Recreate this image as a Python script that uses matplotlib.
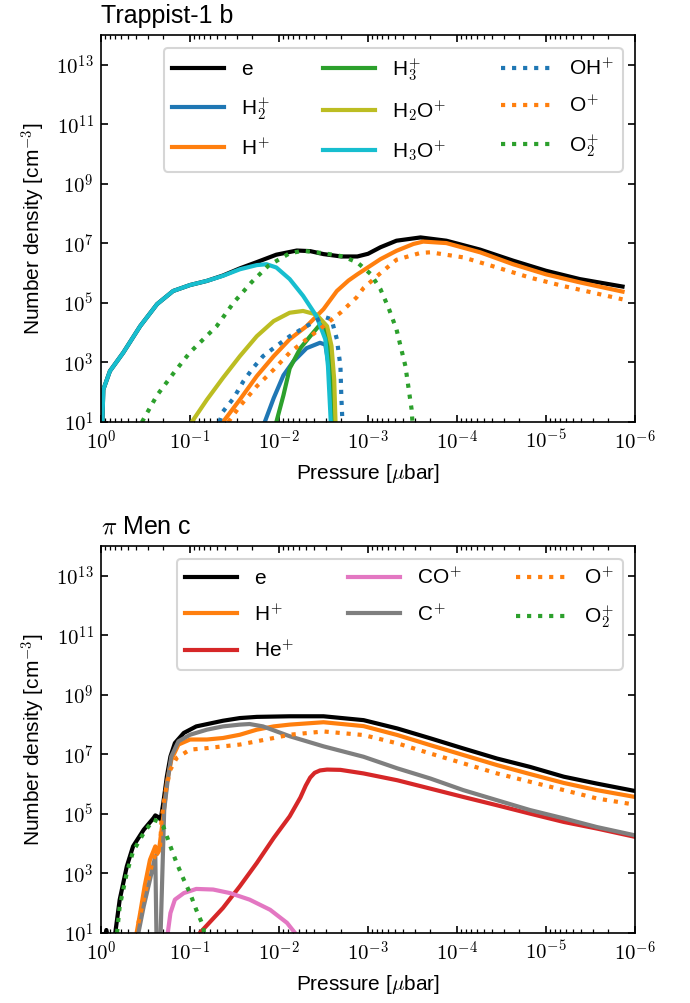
## Ion number densities vs pressure for two planets
import numpy as np
import matplotlib.pyplot as plt
from matplotlib.ticker import NullLocator, FuncFormatter, NullFormatter

plt.rcParams['font.family'] = ['Liberation Sans', 'DejaVu Sans']
plt.rcParams['mathtext.fontset'] = 'cm'
plt.rcParams['font.size'] = 10
plt.rcParams['xtick.direction'] = 'in'
plt.rcParams['ytick.direction'] = 'in'
plt.rcParams['xtick.top'] = True
plt.rcParams['ytick.right'] = True

# Trappist-1 b: log10(pressure [ubar]) and log10(density [cm-3])
t_e_p = [-0.01, -0.026, -0.10, -0.25, -0.44, -0.63, -0.81, -1.0, -1.19, -1.37, -1.56,
         -1.75, -1.97, -2.2, -2.35, -2.5, -2.7, -2.88, -3.0, -3.14, -3.32, -3.59,
         -3.88, -4.26, -4.63, -5.0, -5.38, -5.86]
t_e_n = [0.5, 2.09, 2.71, 3.33, 4.22, 4.96, 5.40, 5.60, 5.74, 5.92, 6.16,
         6.37, 6.62, 6.76, 6.74, 6.64, 6.56, 6.56, 6.65, 6.87, 7.09, 7.20,
         7.09, 6.79, 6.42, 6.08, 5.80, 5.55]

t_h2p_p = [-1.84, -1.94, -2.05, -2.16, -2.31, -2.46, -2.52, -2.55, -2.59, -2.61]
t_h2p_n = [1.0, 1.80, 2.57, 3.03, 3.48, 3.66, 3.60, 3.06, 2.2, 0.5]

t_hp_p = [-1.37, -1.56, -1.75, -1.94, -2.12, -2.31, -2.50, -2.65, -2.78, -2.88,
          -3.14, -3.32, -3.51, -3.62, -3.88, -4.26, -4.63, -5.0, -5.38, -5.86]
t_hp_n = [1.0, 1.75, 2.54, 3.21, 3.78, 4.22, 4.79, 5.40, 5.75, 5.96,
          6.47, 6.75, 6.98, 7.06, 7.01, 6.70, 6.30, 5.96, 5.69, 5.38]

t_h3p_p = [-1.97, -2.05, -2.12, -2.24, -2.35, -2.46, -2.50, -2.55, -2.59, -2.62]
t_h3p_n = [1.0, 1.90, 2.80, 3.48, 3.88, 4.27, 4.30, 3.83, 2.88, 0.5]

t_h2op_p = [-1.02, -1.19, -1.37, -1.56, -1.75, -1.94, -2.12, -2.27, -2.42, -2.54, -2.59, -2.62, -2.64]
t_h2op_n = [1.0, 1.75, 2.48, 3.21, 3.88, 4.39, 4.67, 4.73, 4.61, 4.22, 3.55, 2.43, 0.5]

t_h3op_p = [-0.01, -0.026, -0.10, -0.25, -0.44, -0.63, -0.81, -1.0, -1.19, -1.37, -1.56,
            -1.75, -1.86, -1.97, -2.12, -2.27, -2.42, -2.52, -2.55, -2.59]
t_h3op_n = [0.5, 2.09, 2.71, 3.33, 4.22, 4.96, 5.40, 5.60, 5.74, 5.91, 6.13,
            6.27, 6.30, 6.19, 5.80, 5.24, 4.56, 3.78, 2.88, 0.5]

t_ohp_p = [-1.33, -1.37, -1.49, -1.60, -1.71, -1.82, -1.97, -2.12, -2.31, -2.50, -2.59, -2.65, -2.69, -2.70, -2.72]
t_ohp_n = [1.0, 1.35, 1.80, 2.37, 2.82, 3.21, 3.55, 3.88, 4.22, 4.54, 4.45, 3.78, 2.88, 1.87, 0.5]

t_op_p = [-1.43, -1.56, -1.75, -1.94, -2.12, -2.31, -2.50, -2.69, -2.87, -2.95, -3.14,
          -3.32, -3.59, -3.70, -4.07, -4.45, -4.82, -5.19, -5.86]
t_op_n = [1.0, 1.53, 2.2, 2.76, 3.33, 3.78, 4.22, 4.67, 5.18, 5.5, 6.0,
          6.45, 6.68, 6.70, 6.53, 6.19, 5.85, 5.57, 5.12]

t_o2p_p = [-0.46, -0.63, -0.81, -1.0, -1.30, -1.49, -1.69, -1.88, -2.12, -2.27, -2.50,
           -2.72, -2.88, -3.03, -3.14, -3.23, -3.32, -3.42, -3.49, -3.51]
t_o2p_n = [1.0, 1.90, 2.62, 3.34, 4.22, 5.01, 5.69, 6.25, 6.67, 6.75, 6.67,
           6.56, 6.36, 5.97, 5.46, 4.84, 4.11, 2.88, 1.42, 0.5]

# pi Men c
m_e_p = [-0.02, -0.06, -0.10, -0.16, -0.21, -0.29, -0.36, -0.48, -0.59, -0.61, -0.64, -0.67,
         -0.70, -0.74, -0.78, -0.83, -0.93, -1.07, -1.37, -1.56, -1.75, -2.12, -2.5,
         -2.95, -3.33, -3.70, -4.07, -4.45, -4.82, -5.20, -5.57, -6.0]
m_e_n = [0.5, 1.1, 0.5, 1.0, 2.12, 3.24, 3.91, 4.47, 4.86, 4.95, 4.90, 4.81,
         5.37, 6.26, 6.93, 7.38, 7.72, 7.94, 8.13, 8.22, 8.26, 8.28, 8.28,
         8.15, 7.87, 7.54, 7.20, 6.86, 6.58, 6.25, 6.02, 5.77]

m_hp_p = [-0.40, -0.44, -0.49, -0.55, -0.61, -0.63, -0.65, -0.70, -0.74, -0.79, -0.87,
          -1.0, -1.19, -1.37, -1.56, -1.75, -1.94, -2.12, -2.5, -2.95, -3.33, -3.70,
          -4.07, -4.45, -4.82, -5.20, -5.57, -6.0]
m_hp_n = [1.0, 1.67, 2.57, 3.46, 3.91, 3.65, 3.75, 4.92, 6.04, 6.82, 7.33,
          7.50, 7.50, 7.55, 7.66, 7.83, 7.94, 8.0, 8.08, 7.95, 7.65, 7.31,
          6.98, 6.64, 6.34, 6.04, 5.80, 5.57]

m_hep_p = [-1.11, -1.37, -1.56, -1.75, -1.94, -2.12, -2.24, -2.30, -2.35, -2.40, -2.46,
           -2.54, -2.69, -2.95, -3.33, -3.70, -4.07, -4.45, -4.82, -5.20, -5.57, -6.0]
m_hep_n = [1.0, 1.84, 2.57, 3.35, 4.19, 4.92, 5.55, 5.95, 6.22, 6.38, 6.46,
           6.49, 6.48, 6.36, 6.13, 5.85, 5.57, 5.29, 5.01, 4.73, 4.51, 4.23]

m_cop_p = [-0.75, -0.78, -0.83, -0.93, -1.07, -1.26, -1.45, -1.67, -1.90, -2.09, -2.18]
m_cop_n = [1.0, 1.67, 2.12, 2.34, 2.48, 2.46, 2.34, 2.12, 1.78, 1.34, 1.0]

m_cp_p = [-0.42, -0.48, -0.55, -0.61, -0.625, -0.665, -0.71, -0.75, -0.79, -0.87, -1.0,
          -1.19, -1.37, -1.56, -1.67, -1.82, -2.12, -2.5, -2.95, -3.33, -3.70, -4.07,
          -4.45, -4.82, -5.20, -5.57, -6.0]
m_cp_n = [1.0, 1.90, 2.79, 3.58, 0.5, 0.5, 5.14, 6.15, 6.93, 7.44, 7.66,
          7.83, 7.94, 8.0, 8.02, 7.94, 7.61, 7.27, 6.92, 6.53, 6.19, 5.80,
          5.46, 5.13, 4.85, 4.56, 4.28]

m_op_p = [-0.42, -0.50, -0.58, -0.64, -0.66, -0.68, -0.72, -0.78, -0.85, -1.0, -1.19,
          -1.37, -1.56, -1.75, -1.94, -2.12, -2.5, -2.95, -3.33, -3.70, -4.07, -4.45,
          -4.82, -5.20, -5.57, -6.0]
m_op_n = [1.33, 2.4, 3.4, 3.85, 3.7, 4.81, 5.70, 6.49, 6.88, 7.16, 7.21,
          7.27, 7.33, 7.44, 7.55, 7.66, 7.77, 7.65, 7.37, 7.03, 6.70, 6.36,
          6.08, 5.80, 5.52, 5.31]

m_o2p_p = [-0.18, -0.21, -0.29, -0.36, -0.48, -0.59, -0.64, -0.70, -0.78, -0.85, -0.93,
           -1.0, -1.07, -1.15, -1.17]
m_o2p_n = [1.0, 1.90, 3.02, 3.74, 4.36, 4.81, 4.75, 4.58, 3.91, 3.35, 2.79,
           2.34, 1.78, 1.22, 0.5]


def curve(ax, p, n, color, ls, label):
    ax.plot(10**np.array(p), 10**np.array(n), color=color, ls=ls, lw=2, label=label)


def pow10(v, pos):
    return r'$10^{%d}$' % round(np.log10(v))


fig, (ax1, ax2) = plt.subplots(2, 1, figsize=(4.6, 1003/150), dpi=150)
fig.subplots_adjust(left=0.1464, right=0.9203, top=0.9651, bottom=0.0698, hspace=0.3205)

curve(ax1, t_e_p, t_e_n, 'k', '-', 'e')
curve(ax1, t_h2p_p, t_h2p_n, 'C0', '-', r'H$_\mathsf{2}^\mathsf{+}$')
curve(ax1, t_hp_p, t_hp_n, 'C1', '-', r'H$^\mathsf{+}$')
curve(ax1, t_h3p_p, t_h3p_n, 'C2', '-', r'H$_\mathsf{3}^\mathsf{+}$')
curve(ax1, t_h2op_p, t_h2op_n, 'C8', '-', r'H$_\mathsf{2}$O$^\mathsf{+}$')
curve(ax1, t_h3op_p, t_h3op_n, 'C9', '-', r'H$_\mathsf{3}$O$^\mathsf{+}$')
curve(ax1, t_ohp_p, t_ohp_n, 'C0', ':', r'OH$^\mathsf{+}$')
curve(ax1, t_op_p, t_op_n, 'C1', ':', r'O$^\mathsf{+}$')
curve(ax1, t_o2p_p, t_o2p_n, 'C2', ':', r'O$_\mathsf{2}^\mathsf{+}$')

curve(ax2, m_e_p, m_e_n, 'k', '-', 'e')
curve(ax2, m_hp_p, m_hp_n, 'C1', '-', r'H$^\mathsf{+}$')
curve(ax2, m_hep_p, m_hep_n, 'C3', '-', r'He$^\mathsf{+}$')
curve(ax2, m_cop_p, m_cop_n, 'C6', '-', r'CO$^\mathsf{+}$')
curve(ax2, m_cp_p, m_cp_n, 'C7', '-', r'C$^\mathsf{+}$')
curve(ax2, m_op_p, m_op_n, 'C1', ':', r'O$^\mathsf{+}$')
curve(ax2, m_o2p_p, m_o2p_n, 'C2', ':', r'O$_\mathsf{2}^\mathsf{+}$')

for ax, title in [(ax1, 'Trappist-1 b'), (ax2, r'$\pi$ Men c')]:
    ax.set_xscale('log')
    ax.set_yscale('log')
    ax.set_xlim(1, 1e-6)
    ax.set_ylim(1e1, 1e14)
    ax.set_yticks([1e1, 1e3, 1e5, 1e7, 1e9, 1e11, 1e13])
    ax.yaxis.set_minor_locator(NullLocator())
    ax.xaxis.set_major_formatter(FuncFormatter(pow10))
    ax.xaxis.set_minor_formatter(NullFormatter())
    ax.yaxis.set_major_formatter(FuncFormatter(pow10))
    ax.tick_params(labelsize=10)
    ax.set_xlabel(r'Pressure [$\mu$bar]')
    ax.set_ylabel(r'Number density [cm$^{-3}$]')
    ax.set_title(title, loc='left')
    ax.legend(ncol=3, loc='upper right', handlelength=2.5, columnspacing=2.6,
              labelspacing=0.75, borderaxespad=0.6)

plt.savefig('out.png', dpi=150)
